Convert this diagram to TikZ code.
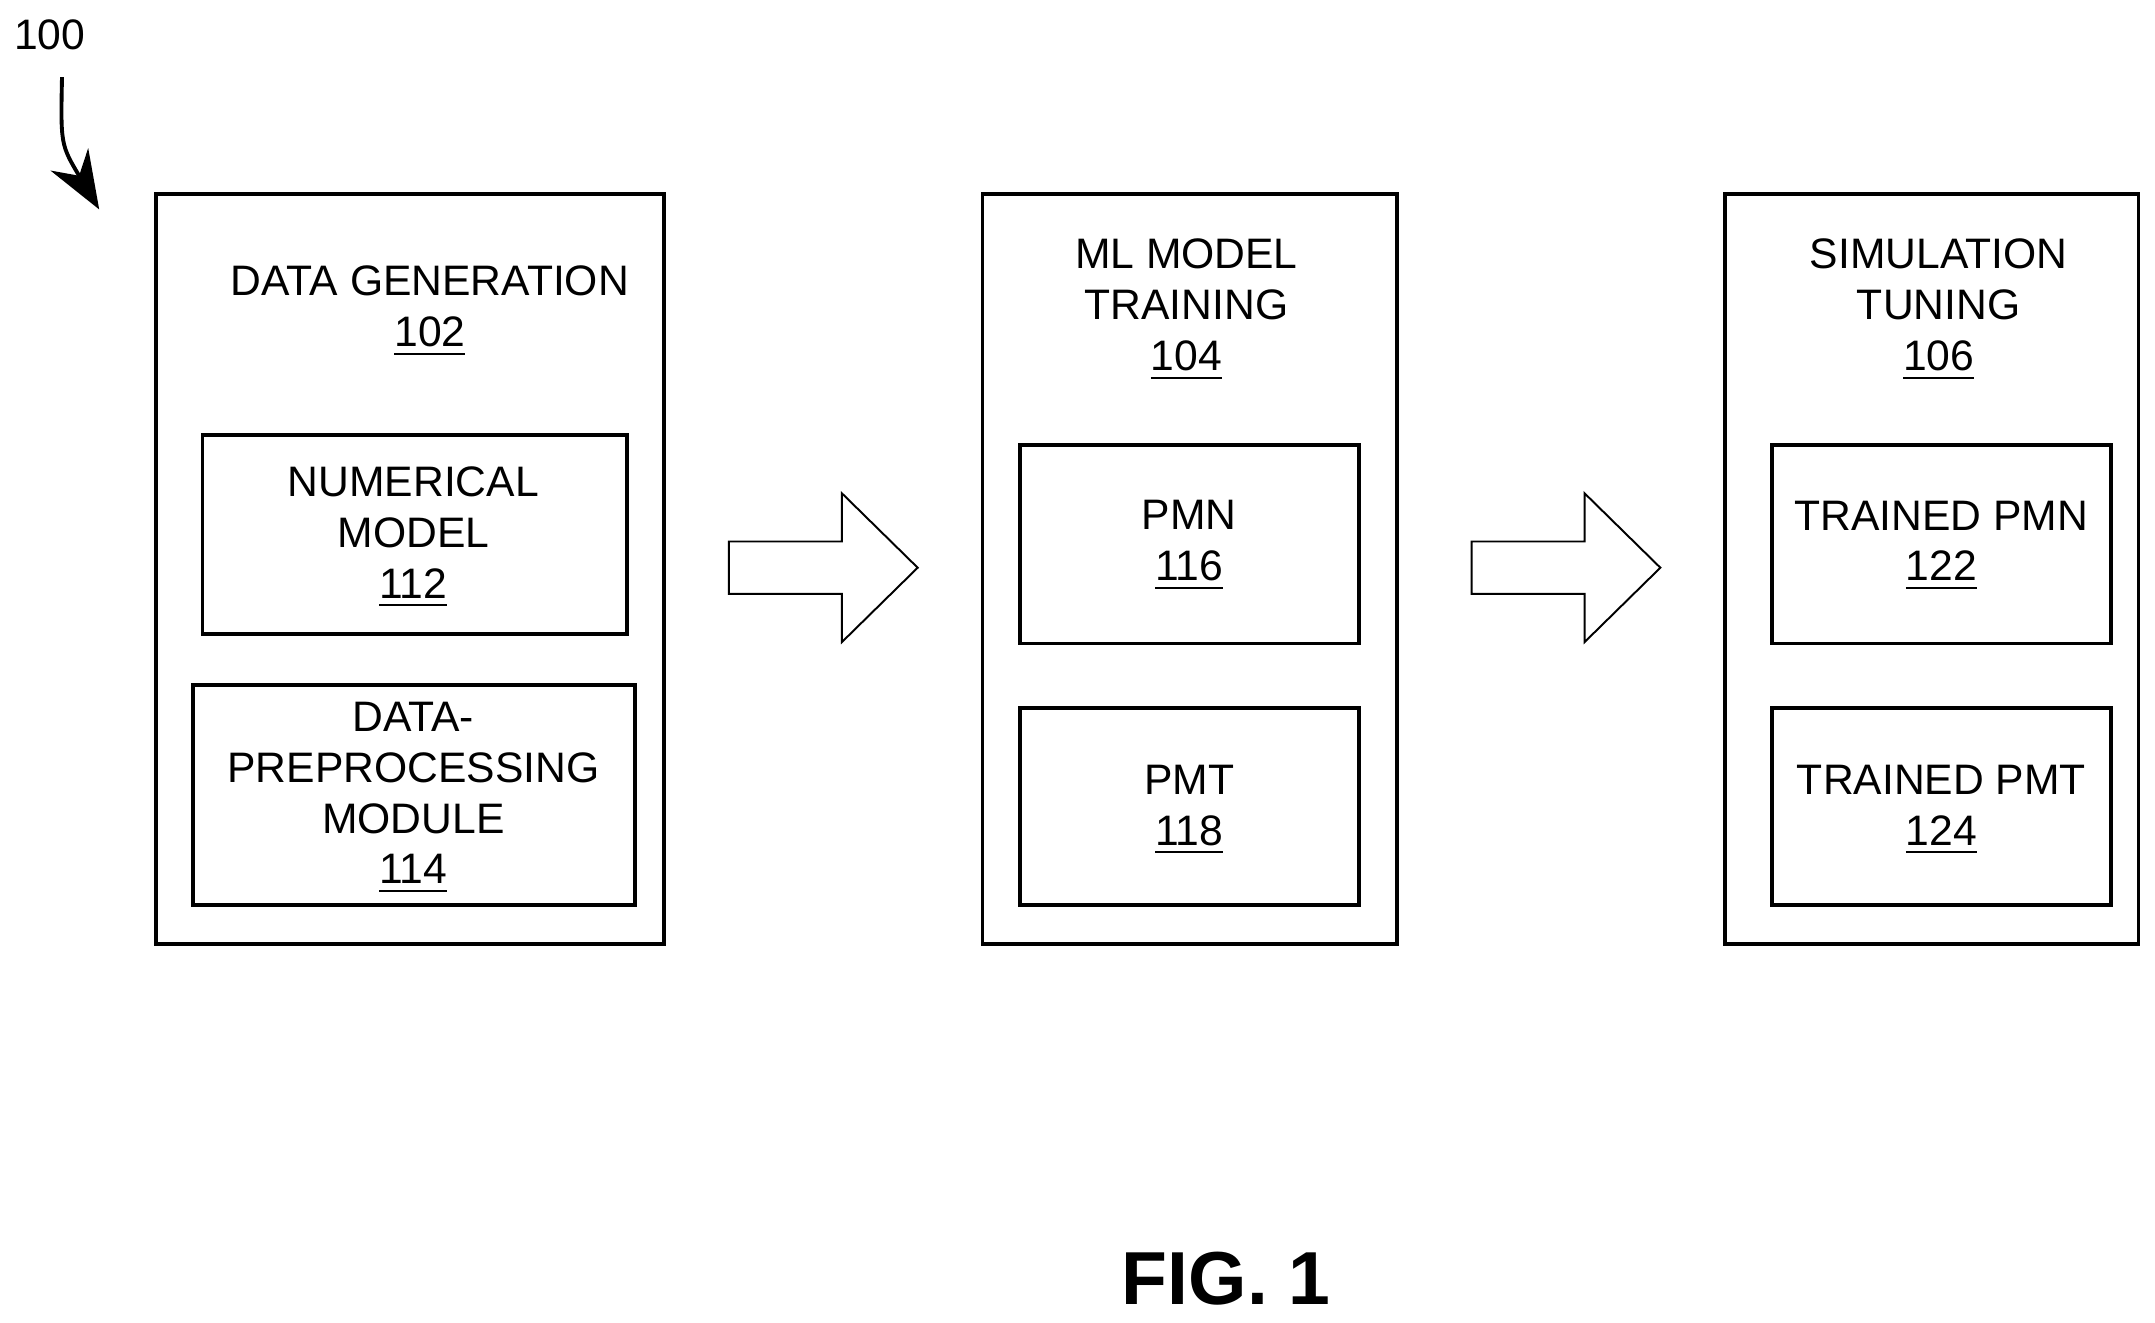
\documentclass[tikz,border=0pt]{standalone}
\usepackage{fontspec}
\setmainfont{Liberation Sans}
\usetikzlibrary{arrows.meta}
\begin{document}
\begin{tikzpicture}[x=0.01cm,y=-0.01cm,
  box/.style={draw,line width=0.8pt},
  lbl/.style={align=center,font=\fontsize{8.8pt}{10.5pt}\selectfont,inner sep=0pt},
  blk/.style={draw,line width=0.4pt,fill=white}]
\useasboundingbox (0,0) rectangle (1564,960);
\draw[box] (113,141) rectangle (482,685) coordinate (b102);
\draw[box] (147,316) rectangle (455,460);
\draw[box] (140,497) rectangle (461,657);
\draw[box] (713,141) rectangle (1014,685);
\draw[box] (740,323) rectangle (986,467);
\draw[box] (740,514) rectangle (986,657);
\draw[box] (1252,141) rectangle (1552,685);
\draw[box] (1286,323) rectangle (1532,467);
\draw[box] (1286,514) rectangle (1532,657);
\node[lbl] (t102) at (312,226) {DATA GENERATION\\\underline{102}};
\node[lbl] (t112) at (300,390) {NUMERICAL\\MODEL\\\underline{112}};
\node[lbl] (t114) at (300,579) {DATA-\\PREPROCESSING\\MODULE\\\underline{114}};
\node[lbl] (t104) at (861,225) {ML MODEL\\TRAINING\\\underline{104}};
\node[lbl] (t116) at (863,396) {PMN\\\underline{116}};
\node[lbl] (t118) at (863,588) {PMT\\\underline{118}};
\node[lbl] (t106) at (1407,225) {SIMULATION\\TUNING\\\underline{106}};
\node[lbl] (t122) at (1409,396) {TRAINED PMN\\\underline{122}};
\node[lbl] (t124) at (1409,588) {TRAINED PMT\\\underline{124}};
\draw[blk] (529,393) -- (611,393) -- (611,358) -- (666,412) -- (611,466) -- (611,431) -- (529,431) -- cycle;
\draw[blk] (1068,393) -- (1150,393) -- (1150,358) -- (1205,412) -- (1150,466) -- (1150,431) -- (1068,431) -- cycle;
\node[lbl] (n100) at (36,25) {100};
\coordinate (a0) at (45,56);
\coordinate (a1) at (72,152);
\draw[line width=0.8pt,-{Stealth[length=12pt,width=9pt]}] (a0) .. controls (44,105) .. (a1);
\node[font=\fontsize{15.5pt}{20pt}\selectfont\bfseries,inner sep=0pt] (fig) at (890,928) {FIG. 1};
\end{tikzpicture}
\end{document}
